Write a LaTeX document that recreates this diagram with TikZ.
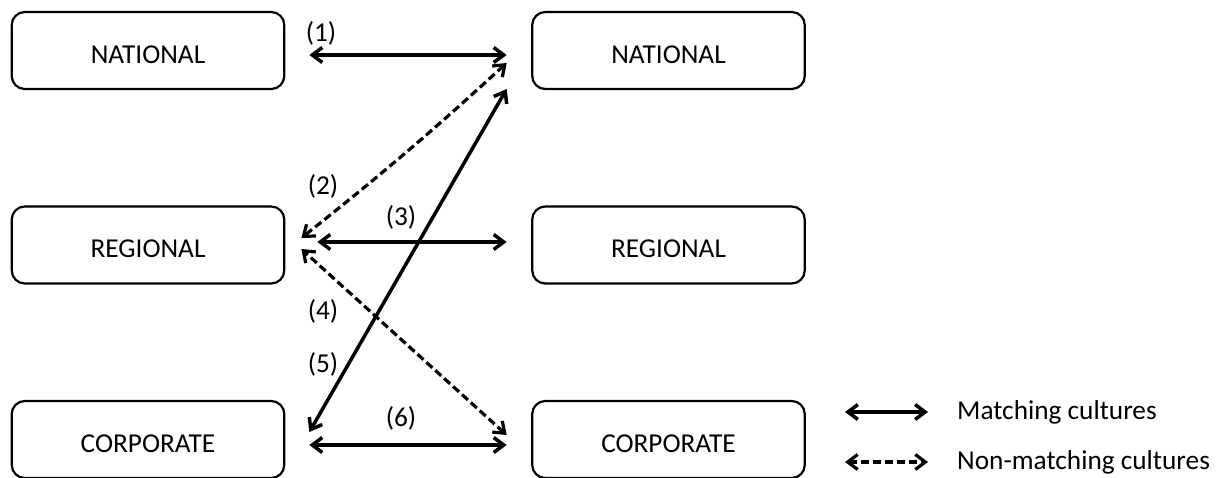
\documentclass[tikz,border=0pt]{standalone}
\usepackage{fontspec}
\setmainfont{Carlito}
\usetikzlibrary{arrows.meta,calc}
\begin{document}
\begin{tikzpicture}[x=1pt,y=-1pt,
  txt/.style={font=\fontsize{27.3}{31}\selectfont},
  box/.style={txt, draw, line width=2.2pt, rounded corners=13pt, minimum width=272.5pt, minimum height=77pt, inner sep=0pt, text height=25pt, text depth=0pt},
  lbl/.style={txt, inner sep=0pt},
  tip/.tip={Straight Barb[length=10pt,width=15pt]},
  conn/.style={line width=3.5pt, tip-tip},
  dconn/.style={conn, line width=3.2pt, dash pattern=on 8pt off 4pt}]
\useasboundingbox (0,0) rectangle (1218,477);
% boxes
\node[box] (nl) at (148,50.5) {NATIONAL};
\node[box] (rl) at (148,245) {REGIONAL};
\node[box] (cl) at (148,439.5) {CORPORATE};
\node[box] (nr) at (668.5,50.5) {NATIONAL};
\node[box] (rr) at (668.5,245) {REGIONAL};
\node[box] (cr) at (668.5,439.5) {CORPORATE};
% endpoints
\coordinate (p1a) at ($(nl.east)+(24,4.5)$);
\coordinate (p1b) at ($(nr.west)+(-24.5,4.5)$);
\coordinate (p2a) at ($(nr.west)+(-24.5,12.5)$);
\coordinate (p2b) at ($(rl.east)+(16,-7)$);
\coordinate (p3a) at ($(rl.east)+(32,-3)$);
\coordinate (p3b) at ($(rr.west)+(-24.5,-3)$);
\coordinate (p4a) at ($(rl.east)+(16,4)$);
\coordinate (p4b) at ($(cr.west)+(-24.5,-4.5)$);
\coordinate (p5a) at ($(nr.west)+(-24.5,38.5)$);
\coordinate (p5b) at ($(cl.east)+(24,-7.5)$);
\coordinate (p6a) at ($(cl.east)+(24,5.5)$);
\coordinate (p6b) at ($(cr.west)+(-24.5,5.5)$);
% connectors
\draw[conn] (p1a) -- (p1b);
\draw[dconn] (p2a) to[bend left=2] (p2b);
\draw[conn] (p3a) -- (p3b);
\draw[dconn] (p4b) -- (p4a);
\draw[conn] (p5a) -- (p5b);
\draw[conn] (p6a) -- (p6b);
% labels
\node[lbl] (l1) at (321,33) {(1)};
\node[lbl] (l2) at (323,186) {(2)};
\node[lbl] (l3) at (401,217) {(3)};
\node[lbl] (l4) at (323,311) {(4)};
\node[lbl] (l5) at (323,364) {(5)};
\node[lbl] (l6) at (401,418) {(6)};
% legend
\node[lbl, anchor=west] (lm) at (957,412) {Matching cultures};
\node[lbl, anchor=west] (ln) at (957,462) {Non-matching cultures};
\coordinate (lm1) at ($(lm.west)+(-112,0)$);
\coordinate (lm2) at ($(lm.west)+(-29,0)$);
\coordinate (ln1) at ($(ln.west)+(-112,0)$);
\coordinate (ln2) at ($(ln.west)+(-29,0)$);
\draw[conn] (lm1) -- (lm2);
\draw[dconn] (ln1) -- (ln2);
\end{tikzpicture}
\end{document}
